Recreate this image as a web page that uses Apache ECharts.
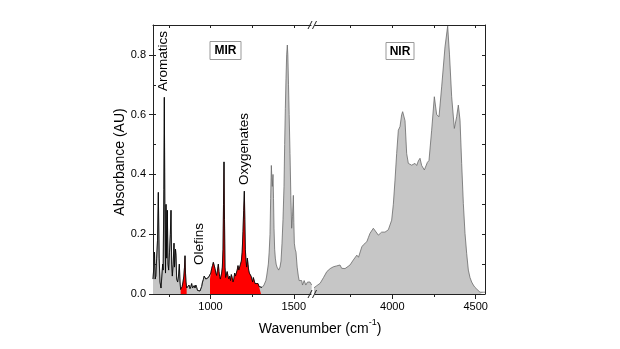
<!DOCTYPE html>
<html>
<head>
<meta charset="utf-8">
<script src="https://cdn.jsdelivr.net/npm/echarts@6/dist/echarts.min.js"></script>
<style>html,body{margin:0;padding:0;background:#fff}#c{width:620px;height:349px}</style>
</head>
<body>
<div id="c"></div>
<script>
// ---- data ----
const mirWavenumber = [
655,660,664,668,672,677,682,687,692,697,
703,708,713,716,720,723,726,730,733,737,
741,745,749,754,759,763,767,771,776,781,
784,787,790,793,797,803,808,813,817,821,
826,830,835,840,844,847,850,853,857,862,
867,871,877,882,887,892,897,902,907,912,
917,922,927,932,937,942,947,952,957,962,
967,972,977,982,987,992,997,1002,1007,1012,
1017,1022,1027,1032,1037,1042,1047,1051,1055,1059,
1063,1067,1071,1075,1078,1081,1084,1087,1091,1095,
1100,1105,1110,1115,1120,1125,1130,1135,1140,1145,
1150,1155,1160,1165,1170,1175,1180,1185,1190,1195,
1199,1203,1206,1209,1213,1217,1221,1225,1229,1233,
1238,1243,1248,1253,1257,1261,1267,1273,1279,1285,
1291,1297,1303,1309,1315,1321,1327,1332,1337,1342,
1347,1352,1357,1361,1365,1368,1371,1375,1378,1381,
1385,1389,1394,1399,1404,1409,1413,1417,1423,1429,
1435,1441,1445,1449,1453,1457,1461,1464,1468,1472,
1477,1482,1487,1492,1497,1500,1503,1508,1513,1520,
1527,1532,1537,1542,1547,1552,1557,1562,1567,1572,
1577,1582,1587,1592,1597,1602,1607];
const mirAbsorbance = [
0.05,0.09,0.14,0.05,0.06,0.12,0.18,0.34,0.12,0.04,
0.02,0.06,0.10,0.08,0.35,0.658,0.30,0.07,0.30,0.12,
0.28,0.10,0.08,0.14,0.20,0.28,0.10,0.06,0.10,0.17,
0.09,0.12,0.15,0.13,0.05,0.04,0.06,0.10,0.04,0.015,
0.012,0.025,0.04,0.06,0.09,0.128,0.07,0.04,0.02,0.025,
0.015,0.03,0.018,0.025,0.035,0.02,0.018,0.028,0.02,0.03,
0.022,0.012,0.008,0.006,0.01,0.016,0.025,0.04,0.048,0.06,
0.055,0.05,0.045,0.052,0.055,0.05,0.05,0.07,0.085,0.095,
0.106,0.1,0.085,0.07,0.062,0.08,0.1,0.075,0.058,0.05,
0.055,0.07,0.09,0.15,0.3,0.442,0.25,0.09,0.055,0.06,
0.075,0.06,0.05,0.06,0.045,0.065,0.055,0.04,0.05,0.07,
0.06,0.065,0.08,0.095,0.08,0.085,0.1,0.11,0.14,0.21,
0.28,0.344,0.25,0.15,0.11,0.09,0.12,0.1,0.08,0.07,
0.075,0.06,0.05,0.04,0.055,0.05,0.035,0.03,0.04,0.035,
0.025,0.02,0.02,0.022,0.025,0.03,0.035,0.045,0.06,0.08,
0.1,0.14,0.2,0.32,0.43,0.39,0.36,0.40,0.32,0.22,
0.15,0.12,0.1,0.09,0.085,0.08,0.085,0.09,0.11,0.17,
0.25,0.36,0.5,0.62,0.72,0.8,0.833,0.8,0.7,0.6,
0.47,0.33,0.22,0.26,0.33,0.24,0.17,0.15,0.14,0.09,
0.06,0.045,0.04,0.05,0.045,0.03,0.03,0.045,0.04,0.03,
0.035,0.04,0.04,0.035,0.04,0.035,0.03];
const nirWavenumber = [
3526,3547,3567,3587,3607,3627,3646,3666,3686,3696,
3716,3746,3766,3777,3787,3797,3817,3827,3847,3857,
3866,3876,3886,3896,3916,3936,3956,3976,3996,4006,
4016,4026,4036,4046,4056,4062,4068,4076,4086,4096,
4116,4136,4146,4156,4166,4176,4192,4210,4220,4236,
4252,4266,4280,4296,4316,4332,4343,4356,4372,4386,
4396,4406,4416,4426,4436,4446,4456,4466,4476,4486,
4496,4506,4526,4546,4556];
const nirAbsorbance = [
0.019,0.028,0.036,0.055,0.075,0.085,0.091,0.094,0.097,0.086,
0.085,0.097,0.114,0.12,0.13,0.123,0.158,0.165,0.175,0.19,
0.203,0.208,0.22,0.215,0.197,0.207,0.207,0.215,0.247,0.3,
0.381,0.47,0.548,0.56,0.6,0.61,0.615,0.58,0.47,0.437,
0.431,0.437,0.43,0.445,0.454,0.43,0.415,0.44,0.447,0.548,
0.66,0.6,0.593,0.693,0.827,0.896,0.8,0.66,0.554,0.593,
0.632,0.582,0.437,0.303,0.203,0.136,0.08,0.055,0.04,0.03,
0.022,0.016,0.006,0.006,0.006];
const olefinBand = [821, 857];
const oxygenateBand = [997, 1303];
const blackOutlineEnd = 1309;
const mirMajorTicks = [1000, 1500];
const mirMinorTicks = [750, 1250];
const nirMajorTicks = [4000, 4500];
const nirMinorTicks = [3750, 4250];
const yMajorTicks = [0, 0.2, 0.4, 0.6, 0.8];
const yMinorTicks = [0.1, 0.2, 0.3, 0.4, 0.5, 0.6, 0.7, 0.8];

// ---- build ----
const zip = (xs, ys) => xs.map((x, i) => [x, ys[i]]);
const mir = zip(mirWavenumber, mirAbsorbance);
const nir = zip(nirWavenumber, nirAbsorbance);
const inRange = (d, r) => d.filter(p => p[0] >= r[0] && p[0] <= r[1]);

const FONT = '"Liberation Sans", Arial, sans-serif';
const AX = '#222';
const chart = echarts.init(document.getElementById('c'), null, {renderer: 'canvas'});

function xAx(grid, pos, min, max, ticks, len, inside, labels, line) {
  return {
    type: 'value', gridIndex: grid, position: pos, min, max,
    splitLine: {show: false},
    axisLine: {show: line, onZero: false, lineStyle: {color: AX, width: 1}},
    axisTick: {show: true, customValues: ticks, length: len, inside, lineStyle: {color: AX, width: 1}},
    axisLabel: labels ? {show: true, customValues: labels, color: '#000', fontSize: 11, fontFamily: FONT, margin: 7,
                         formatter: v => String(v)}
                      : {show: false}
  };
}
function yAx(grid, pos, ticks, len, inside, labels, line) {
  return {
    type: 'value', gridIndex: grid, position: pos, min: 0, max: 0.9,
    splitLine: {show: false},
    axisLine: {show: line, onZero: false, lineStyle: {color: AX, width: 1}},
    axisTick: {show: true, customValues: ticks, length: len, inside, lineStyle: {color: AX, width: 1}},
    axisLabel: labels ? {show: true, customValues: labels, color: '#000', fontSize: 11, fontFamily: FONT, margin: 7,
                         formatter: v => v.toFixed(1)}
                      : {show: false}
  };
}

const GREY_FILL = '#c6c6c6';
const GREY_LINE = '#6a6a6a';

function slash(x, y) {
  return {type: 'line', shape: {x1: x, y1: y + 4, x2: x + 4, y2: y - 4},
          style: {stroke: '#222', lineWidth: 1}, z: 100};
}
function boxLabel(cx, cy, w, h, txt) {
  return {type: 'group', z: 100, children: [
    {type: 'rect', shape: {x: cx - w / 2, y: cy - h / 2, width: w, height: h},
     style: {fill: '#fff', stroke: '#999', lineWidth: 1}},
    {type: 'text', x: cx, y: cy + 0.5, style: {text: txt, font: 'bold 12px ' + FONT, fill: '#000',
      align: 'center', verticalAlign: 'middle', textAlign: 'center', textVerticalAlign: 'middle'}}
  ]};
}
function vText(cx, cy, txt, size) {
  return {type: 'text', x: cx, y: cy, rotation: Math.PI / 2, z: 100,
    style: {text: txt, font: size + 'px ' + FONT, fill: '#000',
      align: 'center', verticalAlign: 'middle', textAlign: 'center', textVerticalAlign: 'middle'}};
}

const option = {
  animation: false,
  backgroundColor: '#fff',
  grid: [
    {left: 153, top: 25, width: 158, height: 269},
    {left: 315, top: 25, width: 170, height: 269}
  ],
  xAxis: [
    xAx(0, 'bottom', 655, 1603, mirMajorTicks, 5, false, mirMajorTicks, true),
    xAx(0, 'bottom', 655, 1603, mirMinorTicks, 3, false, null, false),
    xAx(0, 'top', 655, 1603, mirMinorTicks.concat(mirMajorTicks), 3, true, null, true),
    xAx(1, 'bottom', 3536, 4556, nirMajorTicks, 5, false, nirMajorTicks, true),
    xAx(1, 'bottom', 3536, 4556, nirMinorTicks, 3, false, null, false),
    xAx(1, 'top', 3536, 4556, nirMinorTicks.concat(nirMajorTicks), 3, true, null, true)
  ],
  yAxis: [
    yAx(0, 'left', yMajorTicks, 4, false, yMajorTicks, true),
    yAx(0, 'left', yMinorTicks, 3, true, null, false),
    yAx(1, 'right', yMinorTicks, 3, true, null, true)
  ],
  series: [
    {type: 'line', xAxisIndex: 0, yAxisIndex: 0, data: mir, symbol: 'none', silent: true,
     lineStyle: {color: GREY_LINE, width: 0.8}, areaStyle: {color: GREY_FILL, opacity: 1}, z: 2},
    {type: 'line', xAxisIndex: 0, yAxisIndex: 0, data: inRange(mir, olefinBand), symbol: 'none', silent: true,
     lineStyle: {width: 0}, areaStyle: {color: '#ff0000', opacity: 1}, z: 3},
    {type: 'line', xAxisIndex: 0, yAxisIndex: 0, data: inRange(mir, oxygenateBand), symbol: 'none', silent: true,
     lineStyle: {width: 0}, areaStyle: {color: '#ff0000', opacity: 1}, z: 3},
    {type: 'line', xAxisIndex: 0, yAxisIndex: 0, data: inRange(mir, [0, blackOutlineEnd]), symbol: 'none', silent: true,
     lineStyle: {color: '#000', width: 0.8}, z: 4},
    {type: 'line', xAxisIndex: 3, yAxisIndex: 2, data: nir, symbol: 'none', silent: true,
     lineStyle: {color: GREY_LINE, width: 0.8}, areaStyle: {color: GREY_FILL, opacity: 1}, z: 2}
  ],
  graphic: [
    slash(308, 25), slash(312.5, 25), slash(308, 294), slash(312.5, 294),
    boxLabel(225.5, 50.5, 31, 18, 'MIR'),
    boxLabel(400, 51, 28, 17, 'NIR'),
    vText(163.5, 61, 'Aromatics', 13.5),
    vText(199.5, 244, 'Olefins', 13.5),
    vText(244.5, 149, 'Oxygenates', 13.5),
    vText(120, 162, 'Absorbance (AU)', 14),
    {type: 'text', x: 320, y: 327, z: 100,
     style: {text: '{a|Wavenumber (cm}{s|-1}{a|)}', fill: '#000',
       align: 'center', verticalAlign: 'middle', textAlign: 'center', textVerticalAlign: 'middle',
       rich: {a: {fontSize: 14, fontFamily: FONT, color: '#000', lineHeight: 18, verticalAlign: 'bottom'},
              s: {fontSize: 9, fontFamily: FONT, color: '#000', lineHeight: 18, verticalAlign: 'top', padding: [0, 0, 0, 0]}}}}
  ]
};
chart.setOption(option);
</script>
</body>
</html>
